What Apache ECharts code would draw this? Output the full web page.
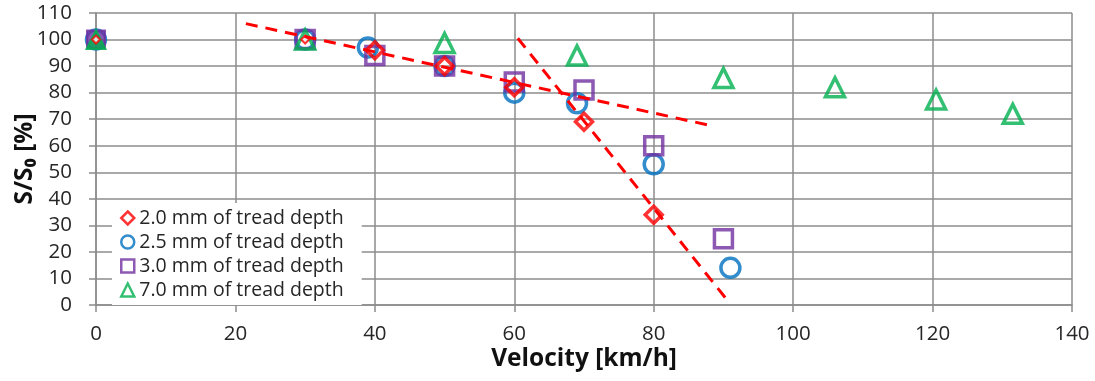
<!DOCTYPE html>
<html>
<head>
<meta charset="utf-8">
<script src="https://cdn.jsdelivr.net/npm/echarts@6/dist/echarts.min.js"></script>
<style>
html,body{margin:0;padding:0;background:#fff;}
#chart{width:1095px;height:381px;}
</style>
</head>
<body>
<div id="chart"></div>
<script>
// ---- data (velocity km/h, S/S0 %) ----
const seriesNames = ['2.0 mm of tread depth', '2.5 mm of tread depth', '3.0 mm of tread depth', '7.0 mm of tread depth'];
const depth20 = [[0, 100], [30, 100], [40, 96], [50, 90], [60, 82], [70, 69], [80, 34]];
const depth25 = [[0, 100], [30, 100], [39, 97], [50, 90], [60, 80], [69, 76], [80, 53], [91, 14]];
const depth30 = [[0, 100], [30, 100], [40, 94], [50, 90], [60, 84], [70, 81], [80, 60], [90, 25]];
const depth70 = [[0, 100], [30, 100], [50, 98.7], [69, 94], [90, 85.5], [106, 82], [120.5, 77.4], [131.5, 72]];
const trendA = [[21.5, 106], [88, 67.7]];
const trendB = [[60.5, 100.5], [90.5, 2]];
const xTicks = [0, 20, 40, 60, 80, 100, 120, 140];
const yTicks = [0, 10, 20, 30, 40, 50, 60, 70, 80, 90, 100, 110];

const colors = ['#ff0000', '#0070c0', '#7030a0', '#00b050'];
const symbols = ['diamond', 'circle', 'rect', 'triangle'];
const sizes = [17, 19, 18, 19];
const zs = [9, 3, 4, 5];
const allData = [depth20, depth25, depth30, depth70];

const gridColor = '#8c8c8c';
const font = '"Open Sans", "Noto Sans", sans-serif';

const chart = echarts.init(document.getElementById('chart'), null, {renderer: 'canvas'});

const hollow = i => ({color: 'rgba(255,255,255,0)', borderColor: colors[i], borderWidth: 3.5});

const scatterSeries = allData.map((d, i) => ({
  name: seriesNames[i],
  type: 'scatter',
  data: d.map(p => {
    const item = {value: p};
    if (p[0] === 0 && (i === 2 || i === 3)) {
      item.itemStyle = {color: colors[i], borderColor: colors[i], borderWidth: 2};
    }
    if (i === 0 && (p[0] === 0 || p[0] === 30)) {
      item.symbolSize = 8;
      item.itemStyle = {color: '#fff', borderColor: colors[0], borderWidth: 2};
    }
    return item;
  }),
  symbol: symbols[i],
  symbolSize: sizes[i],
  itemStyle: hollow(i),
  emphasis: {disabled: true},
  z: zs[i]
}));

const trendSeries = [trendA, trendB].map(d => ({
  type: 'line',
  data: d,
  symbol: 'none',
  lineStyle: {color: '#ff0000', width: 3, type: [12, 8]},
  silent: true,
  z: 10
}));

chart.setOption({
  animation: false,
  backgroundColor: '#fff',
  grid: {left: 96, right: 23, top: 13, bottom: 76, containLabel: false, outerBoundsMode: 'none'},
  xAxis: {
    type: 'value',
    min: xTicks[0], max: xTicks[xTicks.length - 1], interval: 20,
    name: 'Velocity [km/h]',
    nameLocation: 'middle',
    nameGap: 42,
    nameMoveOverlap: false,
    nameTextStyle: {fontFamily: font, fontSize: 24.5, fontWeight: 'bold', color: '#111'},
    axisLine: {show: true, lineStyle: {color: gridColor, width: 1.5}},
    axisTick: {show: true, inside: false, length: 7, lineStyle: {color: gridColor, width: 1.5}},
    axisLabel: {margin: 19, fontFamily: font, fontSize: 20.5, color: '#262626'},
    splitLine: {show: true, lineStyle: {color: gridColor, width: 1.5}}
  },
  yAxis: {
    type: 'value',
    min: yTicks[0], max: yTicks[yTicks.length - 1], interval: 10,
    name: 'S/S\u2080 [%]',
    nameLocation: 'middle',
    nameGap: 58,
    nameMoveOverlap: false,
    nameTextStyle: {fontFamily: font, fontSize: 24.5, fontWeight: 'bold', color: '#111'},
    axisLine: {show: true, lineStyle: {color: gridColor, width: 1.5}},
    axisTick: {show: true, inside: false, length: 7, lineStyle: {color: gridColor, width: 1.5}},
    axisLabel: {margin: 24, fontFamily: font, fontSize: 20.5, color: '#262626'},
    splitLine: {show: true, lineStyle: {color: gridColor, width: 1.5}}
  },
  legend: {
    orient: 'vertical',
    left: 112,
    top: 203,
    padding: [5, 18, 5, 8],
    backgroundColor: '#fff',
    itemWidth: 13,
    itemHeight: 13,
    itemGap: 4,
    textStyle: {fontFamily: font, fontSize: 19.5, color: '#262626'},
    data: seriesNames.map((n, i) => ({
      name: n,
      icon: symbols[i],
      itemStyle: {color: 'rgba(255,255,255,0)', borderColor: colors[i], borderWidth: 2.5}
    })),
    z: 20
  },
  series: scatterSeries.concat(trendSeries)
});
</script>
</body>
</html>
